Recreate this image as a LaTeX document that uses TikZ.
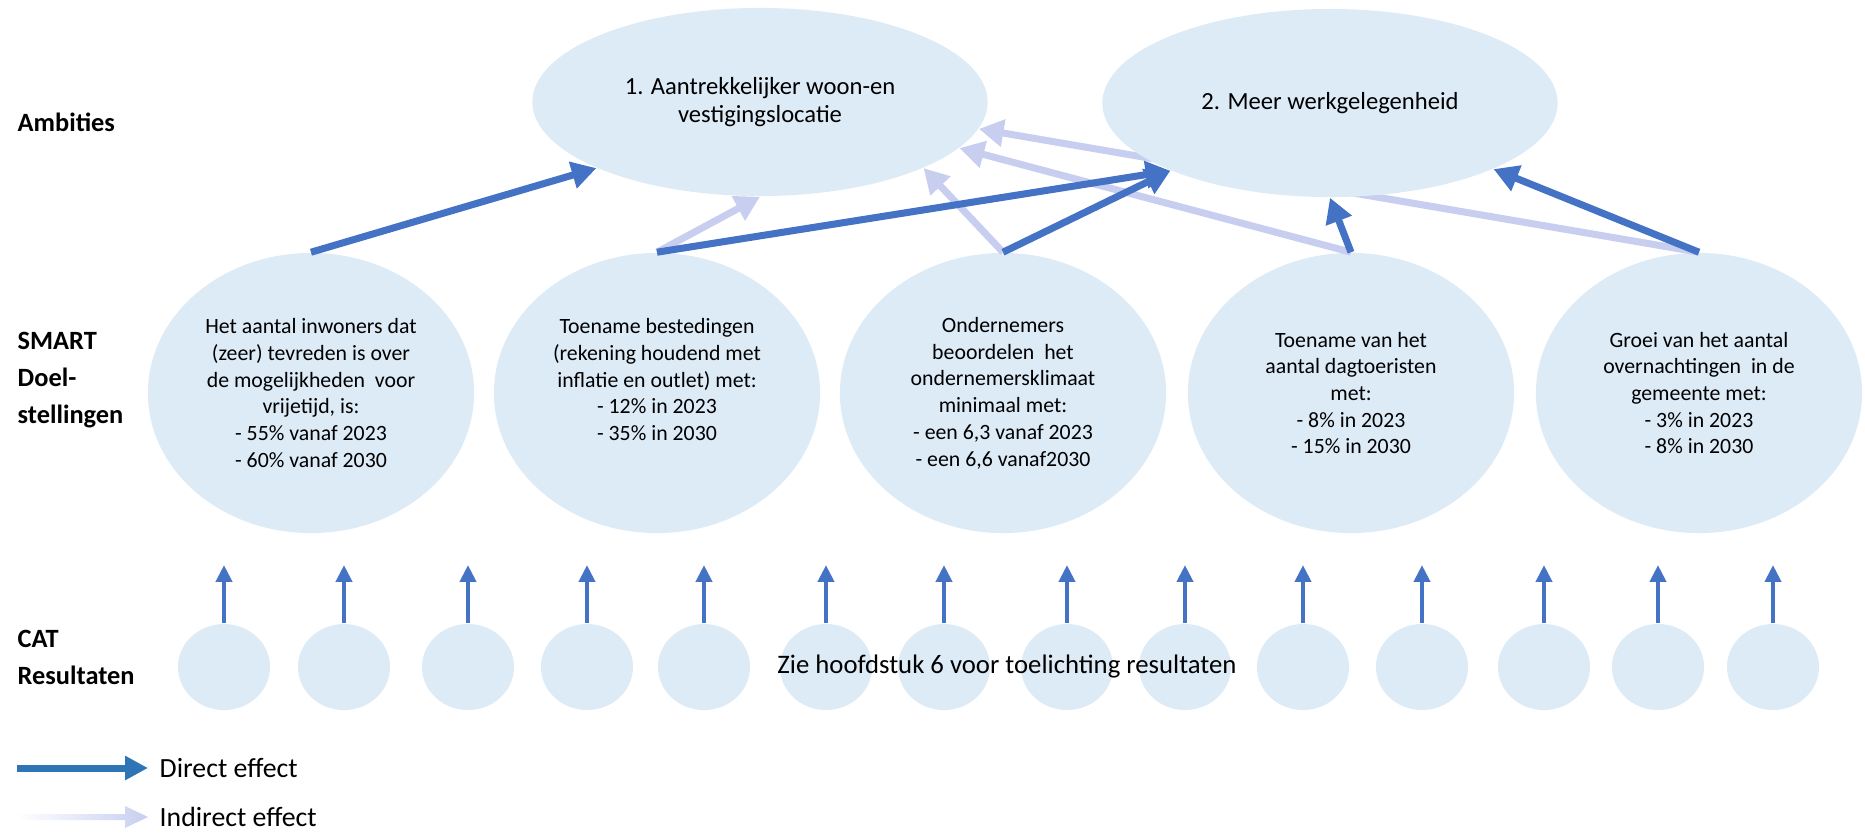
\documentclass[tikz,border=0pt]{standalone}
\usepackage{fontspec}
\setmainfont{Carlito}
\usepackage{xcolor}
\usepackage{tikz}
\usetikzlibrary{shapes.geometric,arrows.meta}

\definecolor{ellblue}{RGB}{221,235,247}
\definecolor{dirblue}{RGB}{68,114,196}
\definecolor{legblue}{RGB}{46,117,182}
\definecolor{indlav}{RGB}{200,206,240}

\begin{document}
\begin{tikzpicture}[x=.01cm, y=-.01cm,
  ambitie/.style={ellipse, fill=ellblue, inner sep=0pt, minimum width=4.55cm, minimum height=1.88cm, align=center, font=\fontsize{7}{8.2}\selectfont},
  doel/.style={ellipse, fill=ellblue, inner sep=0pt, minimum width=3.26cm, minimum height=2.8cm, align=center, font=\fontsize{6.2}{7.6}\selectfont},
  resultaat/.style={ellipse, fill=ellblue, inner sep=0pt, minimum width=.92cm, minimum height=.86cm},
  rij/.style={anchor=west, align=left, inner sep=0pt, font=\fontsize{7.5}{10.5}\selectfont\bfseries},
  legtekst/.style={anchor=west, inner sep=0pt, font=\fontsize{7.9}{9}\selectfont},
  direct/.style={draw=dirblue, line width=2pt, -{Triangle[length=7pt,width=7.5pt]}},
  indirect/.style={draw=indlav, line width=2pt, -{Triangle[length=7pt,width=7.5pt]}},
  omhoog/.style={draw=dirblue, line width=1.3pt, -{Triangle[length=4.8pt,width=4.5pt]}},
  ]
  \useasboundingbox (0,0) rectangle (1865,832);

  % rijen
  \node[rij] (ambLbl) at (17,122) {Ambities};
  \node[rij] (doelLbl) at (17,380) {SMART\\Doel-\\stellingen};
  \node[rij] (catLbl) at (17,657) {CAT\\Resultaten};

  % ambities en doelstellingen
  \node[ambitie] (amb1) at (760,102) {1. Aantrekkelijker woon-en\\vestigingslocatie};

  \node[doel] (d1) at (311,393) {Het aantal inwoners dat\\(zeer) tevreden is over\\de mogelijkheden\ \ voor\\vrijetijd, is:\\- 55\% vanaf 2023\\- 60\% vanaf 2030};
  \node[doel] (d2) at (657,393) {Toename bestedingen\\(rekening houdend met\\inflatie en outlet) met:\\- 12\% in 2023\\- 35\% in 2030\\ \mbox{}};
  \node[doel] (d3) at (1003,393) {Ondernemers\\beoordelen\ \ het\\ondernemersklimaat\\minimaal met:\\- een 6,3 vanaf 2023\\- een 6,6 vanaf2030};
  \node[doel] (d4) at (1351,393) {Toename van het\\aantal dagtoeristen\\met:\\- 8\% in 2023\\- 15\% in 2030};
  \node[doel] (d5) at (1699,393) {Groei van het aantal\\overnachtingen\ \ in de\\gemeente met:\\- 3\% in 2023\\- 8\% in 2030};

  % indirect effect
  \draw[indirect] (d2.north) -- (amb1.south);
  \draw[indirect] (d3.north) -- (amb1.338);
  \draw[indirect] (d4.north) -- (amb1.347);
  \draw[indirect] (d5.north) -- (amb1.353);

  \node[ambitie] (amb2) at (1330,103) {2. Meer werkgelegenheid};

  % direct effect
  \draw[direct] (d1.north) -- (amb1.202);
  \draw[direct] (d2.north) -- (amb2.203);
  \draw[direct] (d3.north) -- (amb2.203);
  \draw[direct] (d4.north) -- (amb2.south);
  \draw[direct] (d5.north) -- (amb2.338);

  % resultaten
  \foreach \x [count=\i] in {224,344,468,587,704,826,944,1067,1185,1303,1422,1544,1658,1773}{
    \node[resultaat] (c\i) at (\x,667) {};
    \coordinate (u\i) at (\x,565);
    \draw[omhoog] (c\i.north) -- (u\i);
  }
  \node[font=\fontsize{7.6}{9}\selectfont] (zie) at (1007,667) {Zie hoofdstuk 6 voor toelichting resultaten};

  % legenda
  \coordinate (dirA) at (17,768);
  \coordinate (dirB) at (148,768);
  \draw[draw=legblue, line width=2pt, -{Triangle[length=6.5pt,width=6.5pt]}] (dirA) -- (dirB);
  \node[legtekst] (dirLbl) at (159,768) {Direct effect};
  \shade[left color=white, right color=indlav] (17,814) -- (125,814) -- (125,806) -- (148,817) -- (125,828) -- (125,820) -- (17,820) -- cycle;
  \node[legtekst] (indLbl) at (159,817) {Indirect effect};
\end{tikzpicture}
\end{document}
